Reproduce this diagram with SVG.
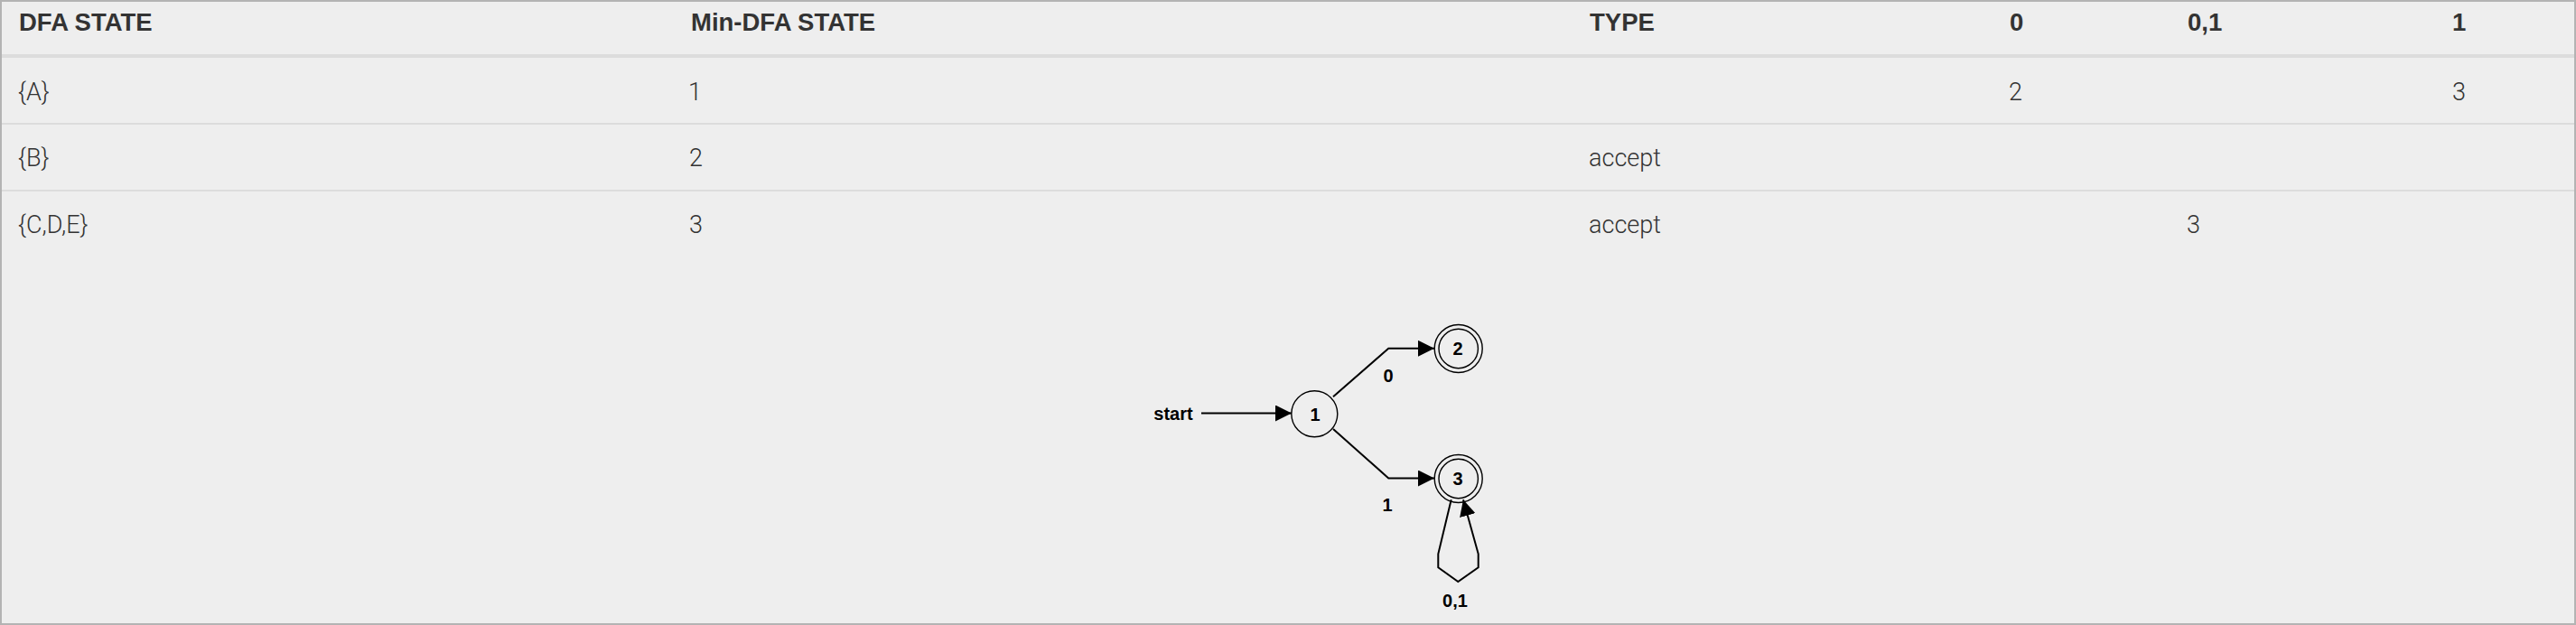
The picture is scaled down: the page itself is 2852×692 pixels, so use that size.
<svg xmlns="http://www.w3.org/2000/svg" width="2852" height="692" viewBox="0 0 2852 692">
<style>
.th{font-family:"Liberation Sans",Arial,sans-serif;font-weight:bold;font-size:27.5px;fill:#333}
.td{font-family:Roboto,"Open Sans","Liberation Sans",sans-serif;font-weight:300;font-size:27px;fill:#333}
.gl{font-family:"Liberation Sans",Arial,sans-serif;font-weight:bold;font-size:20px;fill:#000;text-anchor:middle}
.edge{fill:none;stroke:#000;stroke-width:2}
.node{fill:none;stroke:#000;stroke-width:1.4}
.sep{stroke:#dcdcdc}
</style>
<defs>
<marker id="ah" viewBox="0 0 18 18" refX="18" refY="9" markerWidth="18" markerHeight="18" markerUnits="userSpaceOnUse" orient="auto">
<path d="M0,0 L18,9 L0,18 Z" fill="#000"/>
</marker>
</defs>
<rect x="0" y="0" width="2852" height="692" fill="#eeeeee"/>
<rect x="1" y="1" width="2850" height="690" fill="none" stroke="#b3b3b3" stroke-width="2"/>
<g id="table">
<line class="sep" x1="2" y1="62" x2="2850" y2="62" stroke-width="4"/>
<line class="sep" x1="2" y1="137" x2="2850" y2="137" stroke-width="2"/>
<line class="sep" x1="2" y1="211" x2="2850" y2="211" stroke-width="2"/>
<text class="th" x="21" y="34">DFA STATE</text>
<text class="th" x="765" y="34">Min-DFA STATE</text>
<text class="th" x="1760" y="34">TYPE</text>
<text class="th" x="2225" y="34">0</text>
<text class="th" x="2422" y="34">0,1</text>
<text class="th" x="2715" y="34">1</text>
<text class="td" x="20" y="111">{A}</text>
<text class="td" x="762" y="111">1</text>
<text class="td" x="2224" y="111">2</text>
<text class="td" x="2715" y="111">3</text>
<text class="td" x="20" y="184">{B}</text>
<text class="td" x="763" y="184">2</text>
<text class="td" x="1759" y="184">accept</text>
<text class="td" x="20" y="258">{C,D,E}</text>
<text class="td" x="763" y="258">3</text>
<text class="td" x="1759" y="258">accept</text>
<text class="td" x="2421" y="258">3</text>
</g>
<g id="connectors">
<line class="edge" x1="1330" y1="457.5" x2="1430" y2="457.5" marker-end="url(#ah)"/>
<polyline class="edge" points="1476,439.3 1537.3,385.8 1588,385.8" marker-end="url(#ah)"/>
<polyline class="edge" points="1476,475 1537.3,529.5 1588,529.5" marker-end="url(#ah)"/>
<polyline class="edge" points="1606.7,553.3 1592.3,613.3 1592.3,628.3 1614.3,644 1636.7,628.3 1636.7,613.3 1620,553.3" marker-end="url(#ah)"/>
<text class="gl" x="1537" y="423">0</text>
<text class="gl" x="1536" y="566">1</text>
<text class="gl" x="1611" y="672">0,1</text>
</g>
<g id="start">
<text class="gl" x="1299" y="465">start</text>
</g>
<g id="node1">
<circle class="node" cx="1455.3" cy="458.3" r="25.5"/>
<text class="gl" x="1456" y="465.5">1</text>
</g>
<g id="node2">
<circle class="node" cx="1614.7" cy="386" r="26.5"/>
<circle class="node" cx="1614.7" cy="386" r="21.7"/>
<text class="gl" x="1614" y="393">2</text>
</g>
<g id="node3">
<circle class="node" cx="1614.7" cy="530" r="26.5"/>
<circle class="node" cx="1614.7" cy="530" r="21.7"/>
<text class="gl" x="1614" y="537">3</text>
</g>
</svg>
